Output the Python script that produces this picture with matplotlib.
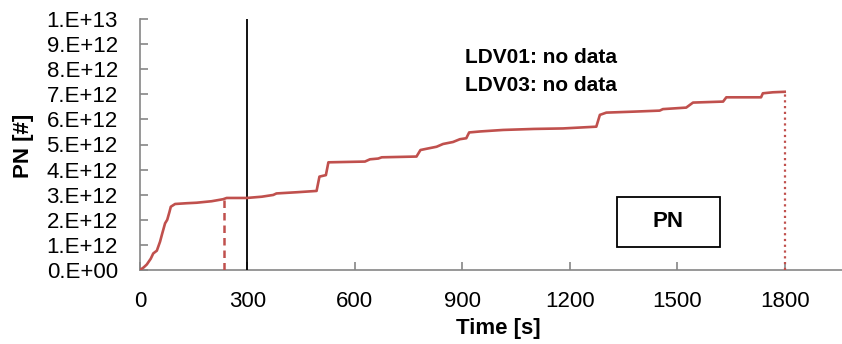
import matplotlib.pyplot as plt
import matplotlib.patches as mpatches

plt.rcParams['font.family'] = ['Liberation Sans', 'DejaVu Sans']

# cumulative PN, time in s, PN in 1e12
time_s = [0, 10, 19, 30, 37, 47, 56, 62, 70, 76, 82, 86, 98, 130, 158, 200, 232, 242,
          298, 340, 372, 381, 440, 493, 501, 519, 526, 628, 642, 665, 675, 772, 783,
          800, 828, 846, 874, 893, 911, 919, 950, 1014, 1100, 1181, 1274, 1284, 1302,
          1380, 1451, 1460, 1525, 1544, 1628, 1637, 1734, 1739, 1767, 1800]
pn_e12 = [0, 0.1, 0.22, 0.45, 0.66, 0.77, 1.13, 1.45, 1.86, 2.0, 2.3, 2.52, 2.63, 2.66,
          2.68, 2.74, 2.82, 2.87, 2.87, 2.92, 2.99, 3.05, 3.1, 3.15, 3.72, 3.78, 4.29,
          4.32, 4.41, 4.44, 4.49, 4.52, 4.78, 4.83, 4.91, 5.02, 5.1, 5.21, 5.25, 5.48,
          5.52, 5.58, 5.62, 5.64, 5.71, 6.18, 6.27, 6.31, 6.35, 6.41, 6.47, 6.67, 6.71,
          6.88, 6.88, 7.04, 7.08, 7.10]
pn = [v * 1e12 for v in pn_e12]

x_ticks = [0, 300, 600, 900, 1200, 1500, 1800]
y_ticks = [i * 1e12 for i in range(11)]
y_labels = ['0.E+00'] + ['%d.E+12' % i for i in range(1, 10)] + ['1.E+13']

marker_dashed = 235   # end of first phase
marker_solid = 300
marker_end = 1800
notes = ['LDV01: no data', 'LDV03: no data']

red = '#C0504D'
grey = '#868686'

fig = plt.figure(figsize=(8.42, 3.44), dpi=100)
ax = fig.add_axes([140 / 842, 74 / 344, 702 / 842, 251 / 344])

ax.plot(time_s, pn, color=red, lw=1.9, zorder=3)

# vertical markers
pn_at_dash = 2.82e12
ax.plot([marker_dashed, marker_dashed], [0, pn_at_dash], color=red, lw=1.8, ls=(0, (3, 2)))
ax.plot([marker_end, marker_end], [0, pn[-1]], color=red, lw=1.6, ls=(0, (1, 1.6)))
ax.plot([marker_solid, marker_solid], [0, 1e13], color='black', lw=1.3)

ax.set_xlim(0, 1960)
ax.set_ylim(0, 1e13)
ax.set_xticks(x_ticks)
ax.set_xticklabels([str(t) for t in x_ticks])
ax.set_yticks(y_ticks)
ax.set_yticklabels(y_labels)

for s in ['top', 'right']:
    ax.spines[s].set_visible(False)
for s in ['left', 'bottom']:
    ax.spines[s].set_color(grey)
    ax.spines[s].set_linewidth(1.2)
    ax.spines[s].set_zorder(1)

ax.tick_params(axis='x', direction='in', length=6, width=1.2, color=grey,
               labelsize=16, pad=15)
ax.tick_params(axis='y', direction='in', length=6, width=1.2, color=grey,
               labelsize=16, pad=16)

ax.set_xlabel('Time [s]', fontsize=16, fontweight='bold')
ax.xaxis.set_label_coords(0.51, -0.19)
ax.set_ylabel('PN [#]', fontsize=16, fontweight='bold')
ax.yaxis.set_label_coords(-0.151, 0.495)

ax.text(0.463, 0.845, notes[0], transform=ax.transAxes, fontsize=15,
        fontweight='bold', va='center', ha='left')
ax.text(0.463, 0.737, notes[1], transform=ax.transAxes, fontsize=15,
        fontweight='bold', va='center', ha='left')

box = mpatches.Rectangle((0.679, 0.093), 0.147, 0.199, transform=ax.transAxes,
                         fill=False, edgecolor='black', lw=1.3, clip_on=False)
ax.add_patch(box)
ax.text(0.679 + 0.0735, 0.093 + 0.0995, 'PN', transform=ax.transAxes, fontsize=16,
        fontweight='bold', ha='center', va='center')

fig.savefig('out.png', dpi=100)
